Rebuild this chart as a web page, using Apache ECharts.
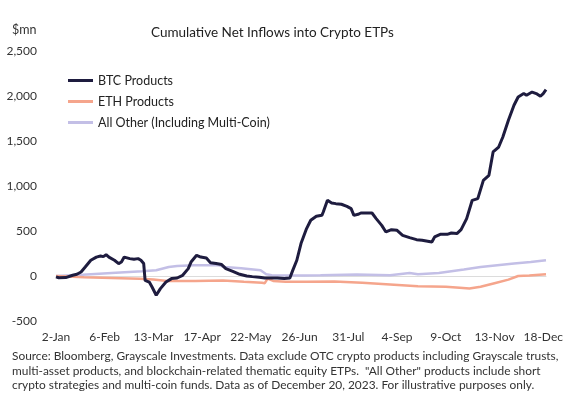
<!DOCTYPE html>
<html>
<head>
<meta charset="utf-8">
<script src="https://cdn.jsdelivr.net/npm/echarts@6/dist/echarts.min.js"></script>
<style>
html,body{margin:0;padding:0;background:#fff;}
#chart{width:566px;height:398px;}
</style>
</head>
<body>
<div id="chart"></div>
<script>
// Day offsets from 2-Jan-2023; values in $mn
const tickLabels = ['2-Jan','6-Feb','13-Mar','17-Apr','22-May','26-Jun','31-Jul','4-Sep','9-Oct','13-Nov','18-Dec'];
const seriesNames = ['BTC Products','ETH Products','All Other (Including Multi-Coin)'];

const btcData = [
  [0,-10],[2,-20],[7,-18],[12,8],[15,20],[18,45],[21,100],[25,175],[29,210],[32,222],[34,215],[36,237],[38,210],
  [42,175],[45,138],[47,155],[49,210],[53,193],[56,185],[59,193],[61,175],[63,138],[64,-48],[67,-67],[69,-122],
  [72,-214],[75,-140],[79,-67],[83,-29],[87,-22],[91,8],[95,82],[97,155],[101,230],[104,210],[108,200],[111,148],
  [115,138],[119,127],[122,82],[127,52],[132,19],[137,0],[141,-7],[146,-14],[150,-22],[155,-22],[159,-22],[164,-29],
  [168,-22],[170,60],[173,175],[176,360],[180,527],[183,619],[187,663],[191,674],[192,711],[195,841],[198,811],
  [201,804],[205,797],[209,774],[212,749],[214,674],[217,686],[219,700],[223,700],[227,700],[230,638],[234,563],
  [237,489],[241,515],[245,508],[249,452],[254,426],[259,404],[263,397],[266,389],[270,378],[272,434],[276,463],
  [281,463],[284,478],[288,471],[291,515],[295,638],[299,841],[303,860],[307,1063],[311,1119],[314,1378],[318,1433],
  [321,1544],[325,1730],[329,1897],[332,1989],[336,2027],[338,2008],[342,2044],[345,2027],[348,1997],[350,2027],[352,2071]
];

const ethData = [
  [0,0],[20,-15],[40,-22],[60,-30],[70,-40],[80,-55],[100,-55],[120,-50],[135,-65],[148,-75],[150,-80],[152,-30],
  [156,-55],[165,-65],[180,-65],[200,-60],[220,-75],[240,-95],[260,-115],[280,-120],[290,-130],[297,-140],
  [305,-120],[315,-80],[325,-40],[332,0],[340,5],[352,20]
];

const otherData = [
  [0,0],[19,15],[43,37],[62,52],[72,63],[81,100],[87,111],[99,119],[108,119],[117,119],[121,100],[133,85],[147,63],
  [151,20],[155,8],[178,5],[190,8],[216,18],[240,8],[254,33],[260,20],[275,33],[293,71],[305,100],[317,119],
  [329,138],[341,155],[352,175]
];

const colors = ['#1e1c3f','#f5a58c','#c3bfe6'];
const FONT = 'Lato, "Noto Sans", sans-serif';

const chart = echarts.init(document.getElementById('chart'), null, {renderer:'canvas'});
chart.setOption({
  animation:false,
  backgroundColor:'#fff',
  textStyle:{fontFamily:FONT},
  title:{
    text:'Cumulative Net Inflows into Crypto ETPs',
    left:146, top:21,
    textStyle:{fontSize:13.5, fontWeight:'normal', color:'#222', fontFamily:FONT}
  },
  graphic:[
    {type:'text', left:12, top:23, style:{text:'$mn', fontSize:12.5, fill:'#333', fontFamily:FONT}},
    {type:'text', left:12, top:349, style:{
      text:'Source: Bloomberg, Grayscale Investments. Data exclude OTC crypto products including Grayscale trusts,\nmulti-asset products, and blockchain-related thematic equity ETPs.  "All Other" products include short\ncrypto strategies and multi-coin funds. Data as of December 20, 2023. For illustrative purposes only.',
      fontSize:11.9, lineHeight:14.5, fill:'#333', fontFamily:FONT}}
  ],
  legend:{
    orient:'vertical', left:63, top:69, itemGap:8,
    itemWidth:25, itemHeight:3, icon:'rect',
    textStyle:{fontSize:12.5, color:'#222', fontFamily:FONT},
    data:seriesNames
  },
  grid:{left:56, right:20, top:51, bottom:77, containLabel:false},
  xAxis:{
    type:'value', min:0, max:352, interval:35,
    axisLine:{show:true, onZero:true, lineStyle:{color:'#dcdcdc', width:1}},
    axisTick:{show:false},
    splitLine:{show:false},
    axisLabel:{
      showMaxLabel:false, margin:10, fontSize:12, color:'#333', fontFamily:FONT,
      formatter:function(v){ const i = Math.round(v/35); return (v % 35 === 0 && tickLabels[i]) ? tickLabels[i] : ''; }
    }
  },
  yAxis:{
    type:'value', min:-500, max:2500, interval:500,
    axisLine:{show:false}, axisTick:{show:false}, splitLine:{show:false},
    axisLabel:{margin:19, fontSize:12, color:'#333', fontFamily:FONT,
      formatter:function(v){ return v.toLocaleString('en-US'); }}
  },
  series:[
    {name:seriesNames[2], type:'line', data:otherData, showSymbol:false, z:2,
      lineStyle:{color:colors[2], width:2.5}, itemStyle:{color:colors[2]}},
    {name:seriesNames[1], type:'line', data:ethData, showSymbol:false, z:3,
      lineStyle:{color:colors[1], width:2.5}, itemStyle:{color:colors[1]}},
    {name:seriesNames[0], type:'line', data:btcData, showSymbol:false, z:4,
      lineStyle:{color:colors[0], width:3}, itemStyle:{color:colors[0]}}
  ]
});
</script>
</body>
</html>
